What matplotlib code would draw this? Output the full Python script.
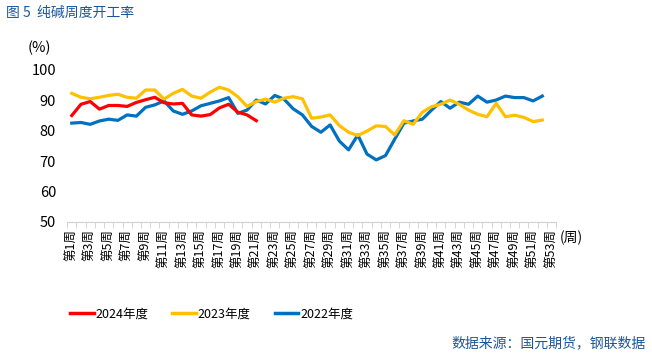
import matplotlib.pyplot as plt
from matplotlib.lines import Line2D
import numpy as np

plt.rcParams['font.family'] = ['Noto Sans CJK SC', 'DejaVu Sans']

weeks = list(range(1, 54))
labels = ['第%d周' % w for w in weeks]

y2024 = [85.0, 88.7, 89.6, 87.1, 88.3, 88.3, 88.0, 89.3, 90.2, 91.0,
         89.2, 88.8, 89.0, 85.2, 84.8, 85.3, 87.5, 88.7, 86.1, 85.2, 83.3]

y2023 = [92.3, 91.0, 90.5, 91.0, 91.6, 92.0, 91.0, 90.7, 93.4, 93.4,
         90.4, 92.3, 93.6, 91.4, 90.7, 92.7, 94.3, 93.4, 91.2, 88.0,
         89.6, 90.4, 89.4, 90.7, 91.2, 90.5, 84.1, 84.5, 85.2, 81.7,
         79.5, 78.4, 79.9, 81.6, 81.4, 78.6, 83.3, 82.1, 86.1, 87.9,
         88.7, 90.1, 88.7, 86.8, 85.4, 84.6, 89.0, 84.6, 85.1, 84.4,
         83.0, 83.5]

y2022 = [82.5, 82.7, 82.1, 83.2, 83.8, 83.4, 85.2, 84.8, 87.7, 88.5,
         89.8, 86.5, 85.4, 86.5, 88.2, 89.0, 89.8, 90.9, 85.7, 86.8,
         90.1, 88.8, 91.6, 90.4, 87.2, 85.2, 81.4, 79.5, 81.9, 76.6,
         73.7, 78.6, 72.3, 70.4, 71.8, 77.2, 82.5, 83.2, 83.8, 86.8,
         89.6, 87.4, 89.4, 88.7, 91.4, 89.4, 90.1, 91.4, 90.9, 90.9,
         89.8, 91.4]

red = '#FF0000'
yellow = '#FFC000'
blue = '#0070C0'
navy = '#1A5799'

fig = plt.figure(figsize=(6.52, 3.55), dpi=100)
ax = fig.add_axes([0.103, 0.375, 0.75, 0.428])

x = np.arange(len(weeks))
ax.plot(x[:len(y2022)], y2022, color=blue, lw=2.3, solid_joinstyle='round')
ax.plot(x[:len(y2023)], y2023, color=yellow, lw=2.3, solid_joinstyle='round')
ax.plot(x[:len(y2024)], y2024, color=red, lw=2.3, solid_joinstyle='round')

ax.set_xlim(-0.5, len(weeks) - 0.5)
ax.set_ylim(50, 100)
ax.set_yticks(range(50, 101, 10))
ax.tick_params(axis='y', length=0, labelsize=10.5, pad=8)

ax.set_xticks(x[::2])
ax.set_xticklabels(labels[::2], rotation=90, fontsize=9)
ax.set_xticks(np.arange(-0.5, len(weeks), 1), minor=True)
ax.tick_params(axis='x', which='major', length=0, pad=5)
ax.tick_params(axis='x', which='minor', length=4, color='#D0D0D0')

for s in ['top', 'right', 'left']:
    ax.spines[s].set_visible(False)
ax.spines['bottom'].set_color('#D0D0D0')

fig.text(0.009, 0.965, '图 5  纯碱周度开工率', color=navy, fontsize=10, va='center')
fig.text(0.043, 0.865, '(%)', fontsize=10.5, va='center')
fig.text(0.858, 0.33, '(周)', fontsize=10, va='center')

handles = [Line2D([], [], color=red, lw=2.5),
           Line2D([], [], color=yellow, lw=2.5),
           Line2D([], [], color=blue, lw=2.5)]
fig.legend(handles, ['2024年度', '2023年度', '2022年度'], loc='center left',
           bbox_to_anchor=(0.107, 0.115), ncol=3, frameon=False, fontsize=9,
           handlelength=1.9, handletextpad=0.15, columnspacing=1.9,
           borderpad=0, borderaxespad=0)

fig.text(0.99, 0.033, '数据来源：国元期货，钢联数据', color=navy, fontsize=10,
         ha='right', va='center')

plt.savefig('out.png', dpi=100)
